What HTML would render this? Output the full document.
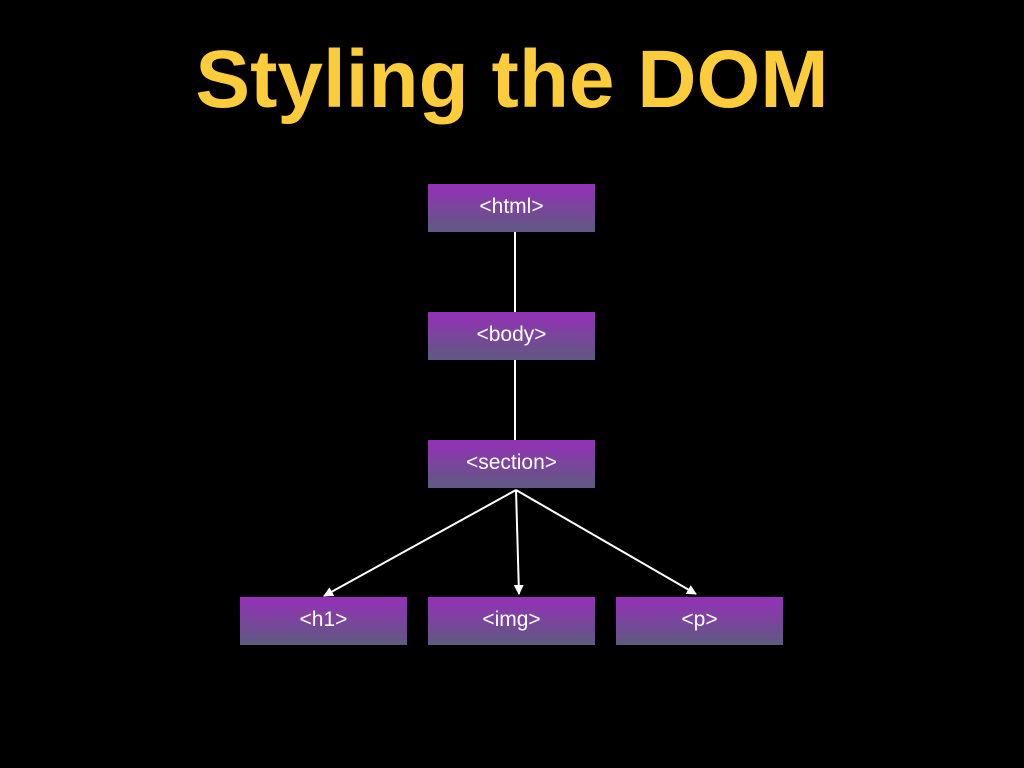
<!DOCTYPE html>
<html><head><style>
body{margin:0;width:1024px;height:768px;background:#000;overflow:hidden;position:relative;font-family:"Liberation Sans","DejaVu Sans",sans-serif}
h1{position:absolute;left:0;width:1024px;top:30px;margin:0;text-align:center;color:#fdcc3a;font-size:82px;font-weight:bold;letter-spacing:0;line-height:100px}
.b{position:absolute;width:167px;height:48px;background:linear-gradient(#9530b8,#5f5a80);color:#fff;font-size:21px;line-height:46px;text-align:center;font-family:"Liberation Sans",sans-serif}
svg{position:absolute;left:0;top:0}
</style></head><body>
<h1>Styling the DOM</h1>
<svg width="1024" height="768">
<defs><marker id="a" markerWidth="10" markerHeight="10" refX="9" refY="5" orient="auto" markerUnits="userSpaceOnUse"><path d="M0,0 L10,5 L0,10 Z" fill="#fff"/></marker></defs>
<g stroke="#fff" stroke-width="2" fill="none">
<line x1="515" y1="232" x2="515" y2="312"/>
<line x1="515" y1="360" x2="515" y2="440"/>
<line x1="516" y1="490" x2="324" y2="596" marker-end="url(#a)"/>
<line x1="516" y1="490" x2="519" y2="594" marker-end="url(#a)"/>
<line x1="516" y1="490" x2="696" y2="594" marker-end="url(#a)"/>
</g></svg>
<div class="b" style="left:428px;top:184px">&lt;html&gt;</div>
<div class="b" style="left:428px;top:312px">&lt;body&gt;</div>
<div class="b" style="left:428px;top:440px">&lt;section&gt;</div>
<div class="b" style="left:240px;top:597px">&lt;h1&gt;</div>
<div class="b" style="left:428px;top:597px">&lt;img&gt;</div>
<div class="b" style="left:616px;top:597px">&lt;p&gt;</div>
</body></html>
